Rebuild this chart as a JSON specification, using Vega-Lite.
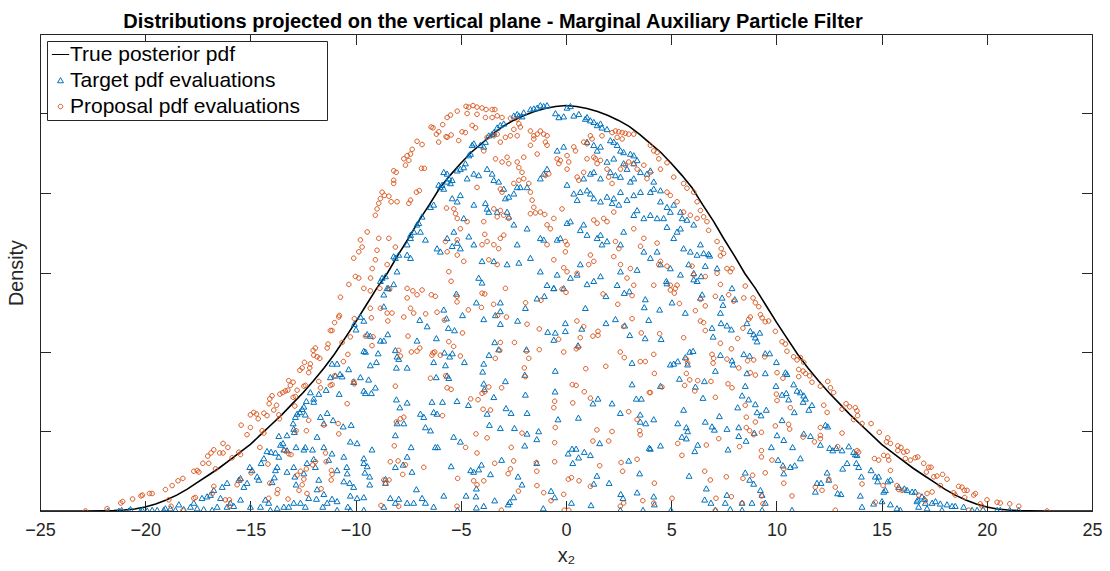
{
"$schema":"https://vega.github.io/schema/vega-lite/v6.json",
"width":1052,"height":477,
"autosize":{"type":"none"},
"padding":{"left":40,"top":34,"right":18,"bottom":60},
"background":"white",
"config":{"view":{"stroke":null},"font":"Liberation Sans"},
"title":{"text":"Distributions projected on the vertical plane - Marginal Auxiliary Particle Filter","fontSize":20,"fontWeight":"bold","color":"#000000","font":"Liberation Sans","anchor":"middle","frame":"group","dx":-73,"dy":24,"offset":10,"baseline":"alphabetic"},
"datasets":{
"curve":[{"x":-25,"y":0},{"x":-23,"y":0},{"x":-22,"y":0.00003},{"x":-21.5,"y":0.00006},{"x":-21,"y":0.00013},{"x":-20.5,"y":0.00025},{"x":-20,"y":0.0005},{"x":-19.5,"y":0.00088},{"x":-19,"y":0.00138},{"x":-18.5,"y":0.002},{"x":-18,"y":0.00275},{"x":-17.5,"y":0.00363},{"x":-17,"y":0.0045},{"x":-16.5,"y":0.00538},{"x":-16,"y":0.00638},{"x":-15.5,"y":0.00738},{"x":-15,"y":0.00838},{"x":-14.5,"y":0.00963},{"x":-14,"y":0.01088},{"x":-13.5,"y":0.01213},{"x":-13,"y":0.0135},{"x":-12.5,"y":0.01488},{"x":-12,"y":0.01638},{"x":-11.5,"y":0.018},{"x":-11,"y":0.01975},{"x":-10.5,"y":0.02175},{"x":-10,"y":0.02375},{"x":-9.5,"y":0.02588},{"x":-9,"y":0.028},{"x":-8.5,"y":0.02988},{"x":-8,"y":0.03213},{"x":-7.5,"y":0.03425},{"x":-7,"y":0.0365},{"x":-6.5,"y":0.0385},{"x":-6,"y":0.04063},{"x":-5.5,"y":0.04225},{"x":-5,"y":0.04375},{"x":-4.5,"y":0.04513},{"x":-4,"y":0.04625},{"x":-3.5,"y":0.04738},{"x":-3,"y":0.04838},{"x":-2.5,"y":0.04913},{"x":-2,"y":0.04975},{"x":-1.5,"y":0.05025},{"x":-1,"y":0.05063},{"x":-0.5,"y":0.05088},{"x":0,"y":0.051},{"x":0.5,"y":0.05088},{"x":1,"y":0.05063},{"x":1.5,"y":0.05025},{"x":2,"y":0.04975},{"x":2.5,"y":0.04913},{"x":3,"y":0.04838},{"x":3.5,"y":0.04738},{"x":4,"y":0.04625},{"x":4.5,"y":0.04513},{"x":5,"y":0.04375},{"x":5.5,"y":0.04225},{"x":6,"y":0.04063},{"x":6.5,"y":0.0385},{"x":7,"y":0.0365},{"x":7.5,"y":0.03425},{"x":8,"y":0.03213},{"x":8.5,"y":0.02988},{"x":9,"y":0.028},{"x":9.5,"y":0.02588},{"x":10,"y":0.02375},{"x":10.5,"y":0.02175},{"x":11,"y":0.01975},{"x":11.5,"y":0.018},{"x":12,"y":0.01638},{"x":12.5,"y":0.01488},{"x":13,"y":0.0135},{"x":13.5,"y":0.01213},{"x":14,"y":0.01088},{"x":14.5,"y":0.00963},{"x":15,"y":0.00838},{"x":15.5,"y":0.00738},{"x":16,"y":0.00638},{"x":16.5,"y":0.00538},{"x":17,"y":0.0045},{"x":17.5,"y":0.00363},{"x":18,"y":0.00275},{"x":18.5,"y":0.002},{"x":19,"y":0.00138},{"x":19.5,"y":0.00088},{"x":20,"y":0.0005},{"x":20.5,"y":0.00025},{"x":21,"y":0.00013},{"x":21.5,"y":0.00006},{"x":22,"y":0.00003},{"x":23,"y":0},{"x":25,"y":0}],
"pts":[
{"s":"T","x":-21.78,"y":0},{"s":"T","x":-21.25,"y":0},{"s":"T","x":-21.12,"y":0.0001},{"s":"T","x":-20.78,"y":0},{"s":"T","x":-20.7,"y":0.0002},{"s":"T","x":-20.22,"y":0},{"s":"T","x":-20.14,"y":0.0001},{"s":"T","x":-19.9,"y":0},
{"s":"T","x":-9.77,"y":0.0244},{"s":"T","x":-9.61,"y":0.0239},{"s":"T","x":-10.06,"y":0.0235},{"s":"T","x":-9.98,"y":0.0228},{"s":"T","x":-9.45,"y":0.0222},{"s":"T","x":-9.3,"y":0.022},{"s":"T","x":-9.61,"y":0.0201},{"s":"T","x":-9.53,"y":0.02},{"s":"T","x":-9.3,"y":0.0183},{"s":"T","x":-8.66,"y":0.0272},{"s":"T","x":-8.66,"y":0.0257},{"s":"T","x":-8.44,"y":0.028},{"s":"T","x":-11.12,"y":0.0185},{"s":"T","x":-10.88,"y":0.0185},{"s":"T","x":-10.78,"y":0.0147},{"s":"T","x":-10.64,"y":0.0169},{"s":"T","x":-10.33,"y":0.0178},{"s":"T","x":-10.09,"y":0.0162},{"s":"T","x":-9.77,"y":0.0168},{"s":"T","x":-9.38,"y":0.0165},{"s":"T","x":-9.61,"y":0.0151},{"s":"T","x":-9.53,"y":0.0148},{"s":"T","x":-9.25,"y":0.0148},{"s":"T","x":-9.06,"y":0.0155},{"s":"T","x":-9.01,"y":0.0187},{"s":"T","x":-8.93,"y":0.0198},{"s":"T","x":-8.82,"y":0.0214},{"s":"T","x":-8.66,"y":0.0214},{"s":"T","x":-8.47,"y":0.0222},{"s":"T","x":-8.11,"y":0.0202},{"s":"T","x":-8.03,"y":0.0194},{"s":"T","x":-8.06,"y":0.018},{"s":"T","x":-7.95,"y":0.0191},{"s":"T","x":-7.55,"y":0.018},{"s":"T","x":-7.08,"y":0.0214},{"s":"T","x":-6.95,"y":0.024},{"s":"T","x":-6.6,"y":0.0232},{"s":"T","x":-6.16,"y":0.0217},{"s":"T","x":-6.29,"y":0.0187},{"s":"T","x":-6.17,"y":0.0168},{"s":"T","x":-6.92,"y":0.0122},{"s":"T","x":-6.76,"y":0.0118},{"s":"T","x":-6.29,"y":0.0124},{"s":"T","x":-6.13,"y":0.0122},{"s":"T","x":-6.37,"y":0.0137},{"s":"T","x":-6.44,"y":0.0101},{"s":"T","x":-6.68,"y":0.0105},{"s":"T","x":-6.21,"y":0.008},{"s":"T","x":-6.1,"y":0.008},{"s":"T","x":-7.36,"y":0.008},{"s":"T","x":-7.55,"y":0.0068},{"s":"T","x":-7.74,"y":0.0058},{"s":"T","x":-8.11,"y":0.0095},{"s":"T","x":-8.03,"y":0.011},{"s":"T","x":-7.71,"y":0.011},{"s":"T","x":-7.9,"y":0.013},{"s":"T","x":-8.06,"y":0.014},{"s":"T","x":-7.55,"y":0.0136},{"s":"T","x":-9.22,"y":0.0077},{"s":"T","x":-9.61,"y":0.0066},{"s":"T","x":-9.61,"y":0.006},{"s":"T","x":-9.45,"y":0.0056},{"s":"T","x":-9.56,"y":0.0048},{"s":"T","x":-9.33,"y":0.0033},{"s":"T","x":-9.33,"y":0.0043},{"s":"T","x":-8.58,"y":0.004},{"s":"T","x":-8.58,"y":0.0035},{"s":"T","x":-8.35,"y":0.0016},{"s":"T","x":-7.95,"y":0.0015},{"s":"T","x":-7.55,"y":0.001},{"s":"T","x":-6.68,"y":0.001},{"s":"T","x":-7.11,"y":0.0027},{"s":"T","x":-7.32,"y":0.0049},{"s":"T","x":-8.11,"y":0.0055},{"s":"T","x":-9.61,"y":0.0017},{"s":"T","x":-10.25,"y":0.0019},{"s":"T","x":-10.37,"y":0.0005},{"s":"T","x":-10.88,"y":0.0012},{"s":"T","x":-11.12,"y":0.0015},{"s":"T","x":-11.56,"y":0.0005},{"s":"T","x":-11.51,"y":0.0021},{"s":"T","x":-11.75,"y":0.0039},{"s":"T","x":-11.83,"y":0.0027},{"s":"T","x":-11.86,"y":0.0015},{"s":"T","x":-12.23,"y":0.0016},{"s":"T","x":-12.39,"y":0.0005},{"s":"T","x":-12.83,"y":0.0033},{"s":"T","x":-12.94,"y":0.0055},{"s":"T","x":-12.89,"y":0.0043},{"s":"T","x":-13.26,"y":0.0049},{"s":"T","x":-13.73,"y":0.0055},{"s":"T","x":-13.81,"y":0.0051},{"s":"T","x":-13.86,"y":0.0042},{"s":"T","x":-13.97,"y":0.0036},{"s":"T","x":-14.6,"y":0.0039},{"s":"T","x":-14.68,"y":0.0043},{"s":"T","x":-15.03,"y":0.0055},{"s":"T","x":-14.92,"y":0.0051},{"s":"T","x":-14.49,"y":0.006},{"s":"T","x":-14.36,"y":0.0066},{"s":"T","x":-14.21,"y":0.0075},{"s":"T","x":-14.02,"y":0.0074},{"s":"T","x":-13.81,"y":0.0073},{"s":"T","x":-13.65,"y":0.0068},{"s":"T","x":-13.41,"y":0.0077},{"s":"T","x":-13.26,"y":0.0076},{"s":"T","x":-13.45,"y":0.0085},{"s":"T","x":-13.26,"y":0.0095},{"s":"T","x":-13.65,"y":0.0094},{"s":"T","x":-13.57,"y":0.0083},{"s":"T","x":-12.83,"y":0.008},{"s":"T","x":-12.46,"y":0.0077},{"s":"T","x":-12.39,"y":0.008},{"s":"T","x":-12.31,"y":0.006},{"s":"T","x":-11.99,"y":0.0065},{"s":"T","x":-11.91,"y":0.0055},{"s":"T","x":-12.46,"y":0.0047},{"s":"T","x":-11.28,"y":0.0064},{"s":"T","x":-11.12,"y":0.0072},{"s":"T","x":-10.56,"y":0.0068},{"s":"T","x":-10.42,"y":0.0055},{"s":"T","x":-10.4,"y":0.0047},{"s":"T","x":-10.28,"y":0.0035},{"s":"T","x":-10.09,"y":0.003},{"s":"T","x":-9.93,"y":0.0016},{"s":"T","x":-10.56,"y":0.0037},{"s":"T","x":-10.88,"y":0.0051},{"s":"T","x":-12.91,"y":0.0099},{"s":"T","x":-12.94,"y":0.0103},{"s":"T","x":-12.97,"y":0.011},{"s":"T","x":-12.86,"y":0.0118},{"s":"T","x":-12.78,"y":0.0122},{"s":"T","x":-12.65,"y":0.0124},{"s":"T","x":-12.54,"y":0.0128},{"s":"T","x":-12.46,"y":0.0131},{"s":"T","x":-12.34,"y":0.0138},{"s":"T","x":-12.39,"y":0.0121},{"s":"T","x":-11.99,"y":0.0137},{"s":"T","x":-12.15,"y":0.0149},{"s":"T","x":-11.99,"y":0.0141},{"s":"T","x":-11.75,"y":0.0147},{"s":"T","x":-11.51,"y":0.011},{"s":"T","x":-11.07,"y":0.0114},{"s":"T","x":-10.59,"y":0.0106},{"s":"T","x":-10.21,"y":0.0108},{"s":"T","x":-10.25,"y":0.0087},{"s":"T","x":-9.93,"y":0.0085},{"s":"T","x":-11.35,"y":0.0123},{"s":"T","x":-10.96,"y":0.017},{"s":"T","x":-10.74,"y":0.0172},{"s":"T","x":-11.2,"y":0.0168},{"s":"T","x":-11.4,"y":0.0152},{"s":"T","x":-11.67,"y":0.0118},{"s":"T","x":-11.83,"y":0.0093},{"s":"T","x":-12.05,"y":0.0077},{"s":"T","x":-11.51,"y":0.008},
{"s":"T","x":-15.0,"y":0.0005},{"s":"T","x":-14.13,"y":0.001},{"s":"T","x":-13.73,"y":0.0003},{"s":"T","x":-13.18,"y":0.0005},{"s":"T","x":-12.62,"y":0.001},{"s":"T","x":-15.55,"y":0.0039},{"s":"T","x":-15.47,"y":0.0041},{"s":"T","x":-15.16,"y":0.0035},{"s":"T","x":-15.31,"y":0.003},{"s":"T","x":-15.79,"y":0.0006},{"s":"T","x":-16.11,"y":0.0035},{"s":"T","x":-16.34,"y":0.003},{"s":"T","x":-16.42,"y":0.0016},{"s":"T","x":-16.74,"y":0.0026},{"s":"T","x":-16.9,"y":0.002},{"s":"T","x":-17.06,"y":0.0018},{"s":"T","x":-17.3,"y":0.0016},{"s":"T","x":-17.53,"y":0.0003},{"s":"T","x":-17.69,"y":0.001},{"s":"T","x":-17.85,"y":0.0005},{"s":"T","x":-18.17,"y":0.0002},{"s":"T","x":-18.4,"y":0.0008},{"s":"T","x":-18.56,"y":0.0001},{"s":"T","x":-18.8,"y":0.0003},{"s":"T","x":-19.04,"y":0.0003},{"s":"T","x":-19.12,"y":0.0001},{"s":"T","x":-19.43,"y":0.0001},{"s":"T","x":-19.67,"y":0.0001},{"s":"T","x":-15.47,"y":0.0014},{"s":"T","x":-15.95,"y":0.001},{"s":"T","x":-16.11,"y":0.0005},{"s":"T","x":-16.58,"y":0.0005},{"s":"T","x":-16.82,"y":0.0001},{"s":"T","x":-17.22,"y":0.0002},{"s":"T","x":-14.52,"y":0.0005},{"s":"T","x":-14.29,"y":0.0014},{"s":"T","x":-14.05,"y":0.0001},{"s":"T","x":-13.41,"y":0.0005},{"s":"T","x":-12.94,"y":0.001},{"s":"T","x":-11.35,"y":0.001},{"s":"T","x":-10.88,"y":0.0001},{"s":"T","x":-10.25,"y":0.0001},{"s":"T","x":-9.61,"y":0.0001},{"s":"T","x":-8.66,"y":0.0005},{"s":"T","x":-8.11,"y":0.001},{"s":"T","x":-6.29,"y":0.0005},{"s":"T","x":-7.24,"y":0.001},{"s":"T","x":-6.84,"y":0.0016},
{"s":"T","x":-8.82,"y":0.0289},{"s":"T","x":-8.74,"y":0.0293},{"s":"T","x":-8.58,"y":0.0295},{"s":"T","x":-8.19,"y":0.032},{"s":"T","x":-8.11,"y":0.0318},{"s":"T","x":-7.95,"y":0.0322},{"s":"T","x":-7.55,"y":0.0335},{"s":"T","x":-7.39,"y":0.0343},{"s":"T","x":-7.23,"y":0.0351},{"s":"T","x":-7.08,"y":0.036},{"s":"T","x":-7.0,"y":0.0362},{"s":"T","x":-6.84,"y":0.037},{"s":"T","x":-6.44,"y":0.0382},{"s":"T","x":-6.29,"y":0.0385},{"s":"T","x":-6.05,"y":0.041},{"s":"T","x":-5.97,"y":0.0407},{"s":"T","x":-5.89,"y":0.041},{"s":"T","x":-5.81,"y":0.0405},{"s":"T","x":-5.65,"y":0.0414},{"s":"T","x":-5.57,"y":0.0418},{"s":"T","x":-5.49,"y":0.0412},{"s":"T","x":-5.17,"y":0.0428},{"s":"T","x":-5.02,"y":0.043},{"s":"T","x":-4.86,"y":0.0432},{"s":"T","x":-4.78,"y":0.0437},{"s":"T","x":-4.62,"y":0.0447},{"s":"T","x":-4.54,"y":0.0449},{"s":"T","x":-4.46,"y":0.046},{"s":"T","x":-4.38,"y":0.0462},{"s":"T","x":-4.07,"y":0.046},{"s":"T","x":-3.91,"y":0.0458},{"s":"T","x":-3.83,"y":0.0464},{"s":"T","x":-3.67,"y":0.0472},{"s":"T","x":-3.51,"y":0.0474},{"s":"T","x":-3.43,"y":0.0476},{"s":"T","x":-3.27,"y":0.0482},{"s":"T","x":-3.12,"y":0.0485},{"s":"T","x":-2.96,"y":0.0487},{"s":"T","x":-2.48,"y":0.0497},{"s":"T","x":-2.32,"y":0.0499},{"s":"T","x":-2.24,"y":0.0497},{"s":"T","x":-2.09,"y":0.0496},{"s":"T","x":-2.01,"y":0.0501},{"s":"T","x":-1.69,"y":0.0505},{"s":"T","x":-1.53,"y":0.0506},{"s":"T","x":-1.37,"y":0.0507},{"s":"T","x":-1.22,"y":0.051},{"s":"T","x":-1.06,"y":0.0509},{"s":"T","x":-0.9,"y":0.051},{"s":"T","x":-0.5,"y":0.05},{"s":"T","x":-0.34,"y":0.0495},{"s":"T","x":-0.11,"y":0.0496},{"s":"T","x":0.05,"y":0.0507},{"s":"T","x":0.21,"y":0.0509},{"s":"T","x":0.37,"y":0.0497},{"s":"T","x":0.61,"y":0.0499},{"s":"T","x":1.0,"y":0.0495},{"s":"T","x":1.16,"y":0.0491},{"s":"T","x":1.32,"y":0.0489},{"s":"T","x":1.48,"y":0.0485},{"s":"T","x":1.64,"y":0.0487},{"s":"T","x":1.71,"y":0.0482},{"s":"T","x":0.92,"y":0.0493},
{"s":"T","x":-5.81,"y":0.0426},{"s":"T","x":-5.65,"y":0.0424},{"s":"T","x":-5.41,"y":0.0416},{"s":"T","x":-5.17,"y":0.0389},{"s":"T","x":-5.02,"y":0.0397},{"s":"T","x":-5.41,"y":0.0393},{"s":"T","x":-4.7,"y":0.0418},{"s":"T","x":-4.38,"y":0.0424},{"s":"T","x":-4.15,"y":0.0422},{"s":"T","x":-3.75,"y":0.043},{"s":"T","x":-3.51,"y":0.0424},{"s":"T","x":-3.43,"y":0.0416},{"s":"T","x":-3.2,"y":0.0414},{"s":"T","x":-2.96,"y":0.0405},{"s":"T","x":-2.88,"y":0.0393},{"s":"T","x":-2.72,"y":0.0395},{"s":"T","x":-2.48,"y":0.0399},{"s":"T","x":-2.32,"y":0.0407},{"s":"T","x":-2.17,"y":0.0407},{"s":"T","x":-1.85,"y":0.0407},{"s":"T","x":-1.22,"y":0.0418},{"s":"T","x":-1.06,"y":0.0424},{"s":"T","x":-0.9,"y":0.043},{"s":"T","x":-0.42,"y":0.0453},{"s":"T","x":-0.11,"y":0.0458},{"s":"T","x":0.05,"y":0.041},{"s":"T","x":0.37,"y":0.0399},{"s":"T","x":0.53,"y":0.0391},{"s":"T","x":0.68,"y":0.0401},{"s":"T","x":1.0,"y":0.0403},{"s":"T","x":1.16,"y":0.0399},{"s":"T","x":1.32,"y":0.0393},{"s":"T","x":1.64,"y":0.0389},{"s":"T","x":1.95,"y":0.0395},{"s":"T","x":2.19,"y":0.0387},{"s":"T","x":2.27,"y":0.0393},{"s":"T","x":2.51,"y":0.0385},{"s":"T","x":2.9,"y":0.0391},{"s":"T","x":2.59,"y":0.0401},{"s":"T","x":3.22,"y":0.0397},{"s":"T","x":3.54,"y":0.0401},{"s":"T","x":4.01,"y":0.0401},{"s":"T","x":4.17,"y":0.0405},{"s":"T","x":4.49,"y":0.0389},{"s":"T","x":4.8,"y":0.0382},{"s":"T","x":5.12,"y":0.0385},{"s":"T","x":5.44,"y":0.0376},{"s":"T","x":5.52,"y":0.0368},{"s":"T","x":5.75,"y":0.0366},{"s":"T","x":6.07,"y":0.036},{"s":"T","x":5.44,"y":0.0355},{"s":"T","x":5.28,"y":0.0351},{"s":"T","x":5.12,"y":0.0343},{"s":"T","x":5.59,"y":0.033},{"s":"T","x":5.91,"y":0.0326},{"s":"T","x":6.23,"y":0.0322},{"s":"T","x":5.83,"y":0.031},{"s":"T","x":6.07,"y":0.0299},{"s":"T","x":5.44,"y":0.0297},{"s":"T","x":4.96,"y":0.0305},{"s":"T","x":4.01,"y":0.0318},{"s":"T","x":3.7,"y":0.0326},{"s":"T","x":4.33,"y":0.0326},{"s":"T","x":4.49,"y":0.031},{"s":"T","x":4.8,"y":0.0286},{"s":"T","x":3.38,"y":0.0303},{"s":"T","x":2.59,"y":0.0301},{"s":"T","x":2.43,"y":0.0284},{"s":"T","x":1.64,"y":0.0295},{"s":"T","x":1.32,"y":0.0289},{"s":"T","x":1.0,"y":0.0285},{"s":"T","x":0.68,"y":0.031},{"s":"T","x":0.53,"y":0.0297},{"s":"T","x":0.21,"y":0.0293},{"s":"T","x":-0.11,"y":0.028},{"s":"T","x":-0.42,"y":0.0297},{"s":"T","x":-0.58,"y":0.028},{"s":"T","x":-0.9,"y":0.0284},{"s":"T","x":-1.22,"y":0.0301},{"s":"T","x":-1.69,"y":0.0318},{"s":"T","x":-2.32,"y":0.0335},{"s":"T","x":-2.24,"y":0.0312},{"s":"T","x":-2.8,"y":0.031},{"s":"T","x":-3.43,"y":0.0314},{"s":"T","x":-3.99,"y":0.0314},{"s":"T","x":-4.38,"y":0.0335},{"s":"T","x":-4.15,"y":0.0293},{"s":"T","x":-3.99,"y":0.0287},{"s":"T","x":-4.62,"y":0.0345},{"s":"T","x":-5.02,"y":0.033},{"s":"T","x":-5.17,"y":0.0337},{"s":"T","x":-5.97,"y":0.0326},{"s":"T","x":-6.13,"y":0.033},{"s":"T","x":-6.68,"y":0.0341},{"s":"T","x":-6.92,"y":0.0351},{"s":"T","x":-7.39,"y":0.0347},{"s":"T","x":-7.55,"y":0.0322},{"s":"T","x":-7.39,"y":0.0318},{"s":"T","x":-8.03,"y":0.0301},{"s":"T","x":-8.19,"y":0.0285},{"s":"T","x":-8.5,"y":0.028},{"s":"T","x":-5.65,"y":0.0343},{"s":"T","x":-5.41,"y":0.0333},{"s":"T","x":-5.33,"y":0.0351},{"s":"T","x":-4.86,"y":0.0368},{"s":"T","x":-4.38,"y":0.0385},{"s":"T","x":-3.83,"y":0.0387},{"s":"T","x":-3.75,"y":0.038},{"s":"T","x":-3.67,"y":0.0376},{"s":"T","x":-3.27,"y":0.0376},{"s":"T","x":-2.8,"y":0.0376},{"s":"T","x":-2.72,"y":0.037},{"s":"T","x":-2.48,"y":0.036},{"s":"T","x":-1.85,"y":0.0355},{"s":"T","x":-1.22,"y":0.0343},{"s":"T","x":-1.06,"y":0.0341},{"s":"T","x":-0.42,"y":0.0341},{"s":"T","x":-0.27,"y":0.0343},{"s":"T","x":0.05,"y":0.0362},{"s":"T","x":0.21,"y":0.0364},{"s":"T","x":0.68,"y":0.0353},{"s":"T","x":0.84,"y":0.036},{"s":"T","x":1.0,"y":0.0347},{"s":"T","x":1.48,"y":0.0343},{"s":"T","x":1.64,"y":0.0347},{"s":"T","x":1.71,"y":0.0335},{"s":"T","x":1.95,"y":0.0339},{"s":"T","x":2.59,"y":0.0335},{"s":"T","x":2.74,"y":0.0351},{"s":"T","x":3.22,"y":0.0372},{"s":"T","x":3.38,"y":0.0378},{"s":"T","x":3.7,"y":0.0368},{"s":"T","x":4.01,"y":0.0372},{"s":"T","x":4.33,"y":0.0368},{"s":"T","x":4.64,"y":0.0368},{"s":"T","x":4.8,"y":0.0357},{"s":"T","x":4.96,"y":0.0376},{"s":"T","x":1.95,"y":0.048},{"s":"T","x":2.11,"y":0.0466},{"s":"T","x":2.27,"y":0.0464},{"s":"T","x":2.43,"y":0.046},{"s":"T","x":2.59,"y":0.0453},{"s":"T","x":2.74,"y":0.0451},{"s":"T","x":3.06,"y":0.0449},{"s":"T","x":3.22,"y":0.0447},{"s":"T","x":3.38,"y":0.0441},{"s":"T","x":3.22,"y":0.0437},{"s":"T","x":2.9,"y":0.043},{"s":"T","x":2.74,"y":0.0437},{"s":"T","x":2.27,"y":0.0443},{"s":"T","x":1.95,"y":0.0439},{"s":"T","x":1.64,"y":0.0418},{"s":"T","x":1.32,"y":0.0426},{"s":"T","x":1.16,"y":0.0424},{"s":"T","x":0.84,"y":0.0418},{"s":"T","x":1.64,"y":0.0458},{"s":"T","x":1.48,"y":0.0453},{"s":"T","x":1.32,"y":0.046},{"s":"T","x":1.0,"y":0.0464},{"s":"T","x":3.54,"y":0.0426},{"s":"T","x":3.85,"y":0.0424},{"s":"T","x":4.01,"y":0.0428},{"s":"T","x":4.17,"y":0.0414},{"s":"T","x":4.49,"y":0.0403},{"s":"T","x":3.22,"y":0.0418},{"s":"T","x":3.06,"y":0.0414},{"s":"T","x":2.59,"y":0.042},{"s":"T","x":2.35,"y":0.0422},{"s":"T","x":2.11,"y":0.0426},
{"s":"T","x":-5.81,"y":0.0253},{"s":"T","x":-5.21,"y":0.0273},{"s":"T","x":-4.26,"y":0.0262},{"s":"T","x":-3.12,"y":0.0262},{"s":"T","x":-3.36,"y":0.0246},{"s":"T","x":-3.12,"y":0.0251},{"s":"T","x":-3.91,"y":0.0241},{"s":"T","x":-4.92,"y":0.0246},{"s":"T","x":-5.68,"y":0.0242},{"s":"T","x":-5.59,"y":0.023},{"s":"T","x":-5.3,"y":0.0227},{"s":"T","x":-3.12,"y":0.0235},{"s":"T","x":-2.3,"y":0.0239},{"s":"T","x":-1.93,"y":0.0255},{"s":"T","x":-1.38,"y":0.0267},{"s":"T","x":-1.03,"y":0.027},{"s":"T","x":-0.58,"y":0.028},{"s":"T","x":0.92,"y":0.0255},{"s":"T","x":-0.03,"y":0.0236},{"s":"T","x":-0.03,"y":0.0226},{"s":"T","x":-0.87,"y":0.0225},{"s":"T","x":-0.51,"y":0.0224},{"s":"T","x":-0.58,"y":0.0215},{"s":"T","x":0.57,"y":0.0208},{"s":"T","x":0.75,"y":0.0229},{"s":"T","x":1.9,"y":0.0236},{"s":"T","x":2.35,"y":0.0241},{"s":"T","x":2.79,"y":0.0233},{"s":"T","x":2.77,"y":0.0274},{"s":"T","x":3.01,"y":0.0276},{"s":"T","x":1.9,"y":0.027},{"s":"T","x":3.77,"y":0.0266},{"s":"T","x":3.72,"y":0.0256},{"s":"T","x":3.93,"y":0.024},{"s":"T","x":3.03,"y":0.0221},{"s":"T","x":3.76,"y":0.0217},{"s":"T","x":3.14,"y":0.0186},{"s":"T","x":-3.39,"y":0.0212},{"s":"T","x":-3.66,"y":0.0196},{"s":"T","x":-3.2,"y":0.0203},{"s":"T","x":-1.88,"y":0.0203},{"s":"T","x":-4.83,"y":0.0187},{"s":"T","x":-3.91,"y":0.0185},{"s":"T","x":-3.96,"y":0.0175},{"s":"T","x":-5.73,"y":0.0183},{"s":"T","x":-5.78,"y":0.0199},{"s":"T","x":-5.4,"y":0.0198},{"s":"T","x":-5.53,"y":0.0194},{"s":"T","x":-5.65,"y":0.017},{"s":"T","x":-5.57,"y":0.0167},{"s":"T","x":-0.51,"y":0.0176},{"s":"T","x":-1.96,"y":0.0171},{"s":"T","x":-2.88,"y":0.0163},{"s":"T","x":-3.91,"y":0.016},{"s":"T","x":-3.88,"y":0.0153},{"s":"T","x":-3.43,"y":0.0143},{"s":"T","x":-5.18,"y":0.0138},{"s":"T","x":-4.64,"y":0.0133},{"s":"T","x":-5.87,"y":0.0137},{"s":"T","x":-1.93,"y":0.0146},{"s":"T","x":-0.52,"y":0.015},{"s":"T","x":-2.85,"y":0.0129},{"s":"T","x":-2.61,"y":0.0123},{"s":"T","x":-3.75,"y":0.0122},{"s":"T","x":-1.85,"y":0.0123},{"s":"T","x":-3.64,"y":0.0108},{"s":"T","x":-3.12,"y":0.0104},{"s":"T","x":-2.45,"y":0.0104},{"s":"T","x":-1.3,"y":0.01},{"s":"T","x":-1.85,"y":0.0097},{"s":"T","x":-1.39,"y":0.009},{"s":"T","x":-0.38,"y":0.0115},{"s":"T","x":0.59,"y":0.0117},{"s":"T","x":3.53,"y":0.0121},{"s":"T","x":3.53,"y":0.0112},{"s":"T","x":3.79,"y":0.011},{"s":"T","x":2.58,"y":0.0123},{"s":"T","x":3.14,"y":0.0159},{"s":"T","x":3.34,"y":0.0141},{"s":"T","x":3.58,"y":0.0141},{"s":"T","x":2.19,"y":0.0135},{"s":"T","x":1.28,"y":0.0135},{"s":"T","x":1.52,"y":0.0141},{"s":"T","x":-5.34,"y":0.0093},{"s":"T","x":-5.02,"y":0.0087},{"s":"T","x":-1.96,"y":0.0082},{"s":"T","x":0.29,"y":0.0078},{"s":"T","x":0.48,"y":0.0078},{"s":"T","x":0.87,"y":0.0074},{"s":"T","x":1.16,"y":0.007},{"s":"T","x":0.1,"y":0.0072},{"s":"T","x":0.6,"y":0.0067},{"s":"T","x":0.32,"y":0.006},{"s":"T","x":1.6,"y":0.0085},{"s":"T","x":3.96,"y":0.0079},{"s":"T","x":2.98,"y":0.0063},{"s":"T","x":-1.39,"y":0.006},{"s":"T","x":-3.06,"y":0.0064},{"s":"T","x":-4.02,"y":0.0058},{"s":"T","x":-4.53,"y":0.0051},{"s":"T","x":-4.39,"y":0.0049},{"s":"T","x":-4.15,"y":0.0052},{"s":"T","x":-3.59,"y":0.0046},{"s":"T","x":-5.46,"y":0.0056},{"s":"T","x":-2.28,"y":0.0043},{"s":"T","x":-2.09,"y":0.0033},{"s":"T","x":-4.26,"y":0.0028},{"s":"T","x":-4.28,"y":0.0018},{"s":"T","x":-4.75,"y":0.0019},{"s":"T","x":-5.81,"y":0.0019},{"s":"T","x":-3.39,"y":0.0013},{"s":"T","x":-2.68,"y":0.0011},{"s":"T","x":-2.49,"y":0.0017},{"s":"T","x":-2.75,"y":0.0008},{"s":"T","x":-3.91,"y":0.0006},{"s":"T","x":-4.26,"y":0.0004},{"s":"T","x":-5.16,"y":0.0001},{"s":"T","x":-1.08,"y":0.0003},{"s":"T","x":-0.54,"y":0.0017},{"s":"T","x":-0.71,"y":0.0025},{"s":"T","x":0.26,"y":0.001},{"s":"T","x":1.19,"y":0.0007},{"s":"T","x":1.47,"y":0.0044},{"s":"T","x":2.05,"y":0.0035},{"s":"T","x":1.32,"y":0.0034},{"s":"T","x":3.5,"y":0.0047},{"s":"T","x":3.38,"y":0.0023},{"s":"T","x":2.6,"y":0.0021},{"s":"T","x":2.71,"y":0.0016},{"s":"T","x":2.58,"y":0.0001},{"s":"T","x":3.66,"y":0.0001},
{"s":"T","x":6.39,"y":0.0335},{"s":"T","x":6.54,"y":0.0324},{"s":"T","x":6.78,"y":0.0323},{"s":"T","x":6.83,"y":0.0321},{"s":"T","x":6.62,"y":0.0308},{"s":"T","x":7.18,"y":0.0305},{"s":"T","x":6.42,"y":0.0295},{"s":"T","x":6.23,"y":0.0289},{"s":"T","x":6.07,"y":0.0291},{"s":"T","x":7.89,"y":0.028},{"s":"T","x":7.42,"y":0.0268},{"s":"T","x":7.46,"y":0.0259},{"s":"T","x":7.34,"y":0.0249},{"s":"T","x":7.37,"y":0.0236},{"s":"T","x":6.94,"y":0.023},{"s":"T","x":7.65,"y":0.0233},{"s":"T","x":7.86,"y":0.0228},{"s":"T","x":6.99,"y":0.0219},{"s":"T","x":6.39,"y":0.0268},{"s":"T","x":5.67,"y":0.0249},{"s":"T","x":4.45,"y":0.0253},{"s":"T","x":4.52,"y":0.0216},{"s":"T","x":5.04,"y":0.0262},{"s":"T","x":4.77,"y":0.0289},{"s":"T","x":6.47,"y":0.0272},{"s":"T","x":8.02,"y":0.0266},{"s":"T","x":8.6,"y":0.0236},{"s":"T","x":8.76,"y":0.0226},{"s":"T","x":8.92,"y":0.0222},{"s":"T","x":9.0,"y":0.0218},{"s":"T","x":9.21,"y":0.0224},{"s":"T","x":9.08,"y":0.0213},
{"s":"T","x":5.88,"y":0.02},{"s":"T","x":6.04,"y":0.0201},{"s":"T","x":5.67,"y":0.0193},{"s":"T","x":4.96,"y":0.0184},{"s":"T","x":5.12,"y":0.0185},{"s":"T","x":5.31,"y":0.0188},{"s":"T","x":5.78,"y":0.0184},{"s":"T","x":7.1,"y":0.0176},{"s":"T","x":7.34,"y":0.0196},{"s":"T","x":7.89,"y":0.0189},{"s":"T","x":7.94,"y":0.0184},{"s":"T","x":8.45,"y":0.0197},{"s":"T","x":8.73,"y":0.0195},{"s":"T","x":9.47,"y":0.0198},{"s":"T","x":9.68,"y":0.0198},{"s":"T","x":10.0,"y":0.0187},{"s":"T","x":10.43,"y":0.0174},{"s":"T","x":10.5,"y":0.0172},{"s":"T","x":9.47,"y":0.0173},{"s":"T","x":8.6,"y":0.0173},{"s":"T","x":5.39,"y":0.0166},{"s":"T","x":6.15,"y":0.0156},{"s":"T","x":6.58,"y":0.0163},{"s":"T","x":6.51,"y":0.0142},{"s":"T","x":4.49,"y":0.0157},{"s":"T","x":5.59,"y":0.0127},{"s":"T","x":4.17,"y":0.0115},{"s":"T","x":5.31,"y":0.011},{"s":"T","x":5.72,"y":0.0105},{"s":"T","x":5.78,"y":0.01},{"s":"T","x":5.51,"y":0.0093},{"s":"T","x":5.72,"y":0.0091},{"s":"T","x":6.62,"y":0.0112},{"s":"T","x":6.94,"y":0.0106},{"s":"T","x":7.05,"y":0.0102},{"s":"T","x":7.29,"y":0.0119},{"s":"T","x":7.65,"y":0.0103},{"s":"T","x":8.21,"y":0.0105},{"s":"T","x":8.16,"y":0.013},{"s":"T","x":8.37,"y":0.0145},{"s":"T","x":8.52,"y":0.0157},{"s":"T","x":8.68,"y":0.014},{"s":"T","x":9.0,"y":0.0134},{"s":"T","x":9.08,"y":0.0124},{"s":"T","x":9.27,"y":0.012},{"s":"T","x":9.52,"y":0.0127},{"s":"T","x":9.98,"y":0.0157},{"s":"T","x":10.27,"y":0.0146},{"s":"T","x":10.47,"y":0.0148},{"s":"T","x":10.58,"y":0.014},{"s":"T","x":10.82,"y":0.0159},{"s":"T","x":10.98,"y":0.0151},{"s":"T","x":10.85,"y":0.0124},{"s":"T","x":10.27,"y":0.0114},{"s":"T","x":10.03,"y":0.0095},{"s":"T","x":10.35,"y":0.0089},{"s":"T","x":9.76,"y":0.008},{"s":"T","x":10.08,"y":0.0064},{"s":"T","x":10.31,"y":0.0057},{"s":"T","x":10.66,"y":0.0055},{"s":"T","x":10.87,"y":0.0057},{"s":"T","x":10.77,"y":0.008},{"s":"T","x":8.21,"y":0.0094},{"s":"T","x":8.56,"y":0.0088},{"s":"T","x":8.95,"y":0.0098},{"s":"T","x":7.7,"y":0.0077},{"s":"T","x":6.26,"y":0.0083},{"s":"T","x":6.12,"y":0.0075},{"s":"T","x":4.49,"y":0.0082},{"s":"T","x":4.01,"y":0.0078},{"s":"T","x":5.85,"y":0.0044},{"s":"T","x":8.52,"y":0.0048},{"s":"T","x":8.73,"y":0.0039},{"s":"T","x":8.92,"y":0.0034},{"s":"T","x":9.24,"y":0.0026},{"s":"T","x":9.32,"y":0.002},{"s":"T","x":9.47,"y":0.001},{"s":"T","x":8.84,"y":0.001},{"s":"T","x":8.37,"y":0.001},{"s":"T","x":7.65,"y":0.002},{"s":"T","x":7.57,"y":0.001},{"s":"T","x":6.89,"y":0.001},{"s":"T","x":6.67,"y":0.0028},{"s":"T","x":6.59,"y":0.0014},{"s":"T","x":7.1,"y":0.0001},{"s":"T","x":7.81,"y":0.0002},{"s":"T","x":8.37,"y":0.0001},{"s":"T","x":9.32,"y":0.0001},{"s":"T","x":10.74,"y":0.0001},{"s":"T","x":10.35,"y":0.0047},{"s":"T","x":4.17,"y":0.0018},{"s":"T","x":4.2,"y":0.0008},{"s":"T","x":4.99,"y":0.0001},
{"s":"T","x":11.14,"y":0.0149},{"s":"T","x":11.3,"y":0.0145},{"s":"T","x":11.38,"y":0.0141},{"s":"T","x":11.54,"y":0.0127},{"s":"T","x":11.69,"y":0.0133},{"s":"T","x":11.27,"y":0.0137},{"s":"T","x":11.3,"y":0.0097},{"s":"T","x":11.14,"y":0.0066},{"s":"T","x":11.62,"y":0.0094},{"s":"T","x":12.09,"y":0.0083},{"s":"T","x":12.33,"y":0.0108},{"s":"T","x":12.44,"y":0.0106},{"s":"T","x":12.53,"y":0.0079},{"s":"T","x":12.68,"y":0.0076},{"s":"T","x":12.85,"y":0.0079},{"s":"T","x":13.12,"y":0.0076},{"s":"T","x":13.44,"y":0.0081},{"s":"T","x":13.67,"y":0.0074},{"s":"T","x":13.75,"y":0.0071},{"s":"T","x":13.83,"y":0.007},{"s":"T","x":13.36,"y":0.006},{"s":"T","x":13.15,"y":0.0053},{"s":"T","x":13.8,"y":0.006},{"s":"T","x":13.91,"y":0.0055},{"s":"T","x":12.41,"y":0.0048},{"s":"T","x":12.49,"y":0.0039},{"s":"T","x":11.93,"y":0.0035},{"s":"T","x":12.12,"y":0.0035},{"s":"T","x":11.85,"y":0.0024},{"s":"T","x":12.91,"y":0.0022},{"s":"T","x":13.07,"y":0.0021},{"s":"T","x":14.04,"y":0.0043},{"s":"T","x":14.5,"y":0.0051},{"s":"T","x":14.7,"y":0.0043},{"s":"T","x":14.86,"y":0.0043},{"s":"T","x":14.81,"y":0.0037},{"s":"T","x":15.29,"y":0.0037},{"s":"T","x":15.42,"y":0.0039},{"s":"T","x":15.18,"y":0.0026},{"s":"T","x":15.1,"y":0.0024},{"s":"T","x":15.81,"y":0.003},{"s":"T","x":16.08,"y":0.0028},{"s":"T","x":16.21,"y":0.0026},{"s":"T","x":16.45,"y":0.0024},{"s":"T","x":16.6,"y":0.0024},{"s":"T","x":16.72,"y":0.0014},{"s":"T","x":16.92,"y":0.0018},{"s":"T","x":17.03,"y":0.0015},{"s":"T","x":17.08,"y":0.001},{"s":"T","x":16.76,"y":0.0005},{"s":"T","x":17.16,"y":0.0003},{"s":"T","x":17.4,"y":0.001},{"s":"T","x":17.56,"y":0.0012},{"s":"T","x":17.79,"y":0.0009},{"s":"T","x":17.87,"y":0.0001},{"s":"T","x":18.11,"y":0.0008},{"s":"T","x":18.35,"y":0.0006},{"s":"T","x":18.5,"y":0.0006},{"s":"T","x":18.9,"y":0.0005},{"s":"T","x":19.3,"y":0.0001},{"s":"T","x":19.54,"y":0.0001},{"s":"T","x":19.82,"y":0.0002},{"s":"T","x":20.49,"y":0.0001},{"s":"T","x":20.64,"y":0.0001},{"s":"T","x":21.09,"y":0.0001},{"s":"T","x":21.52,"y":0.0001},{"s":"T","x":16.68,"y":0.0012},{"s":"T","x":15.89,"y":0.0001},{"s":"T","x":15.73,"y":0.0003},{"s":"T","x":15.42,"y":0.0008},{"s":"T","x":15.02,"y":0.0012},{"s":"T","x":14.07,"y":0.0005},{"s":"T","x":13.99,"y":0.0019},{"s":"T","x":14.62,"y":0.0009},
{"s":"P","x":-22.84,"y":0},{"s":"P","x":-21.81,"y":0.0003},{"s":"P","x":-21.16,"y":0.001},{"s":"P","x":-21.07,"y":0.0012},{"s":"P","x":-20.6,"y":0.0015},{"s":"P","x":-20.2,"y":0.0019},{"s":"P","x":-20.13,"y":0.002},{"s":"P","x":-19.8,"y":0.0022},
{"s":"P","x":-19.67,"y":0.0022},{"s":"P","x":-19.04,"y":0.0027},{"s":"P","x":-18.88,"y":0.0014},{"s":"P","x":-18.77,"y":0.0006},{"s":"P","x":-18.72,"y":0.0032},{"s":"P","x":-18.44,"y":0.0038},{"s":"P","x":-18.21,"y":0.0041},{"s":"P","x":-17.69,"y":0.005},{"s":"P","x":-17.53,"y":0.0051},{"s":"P","x":-17.45,"y":0.0049},{"s":"P","x":-17.26,"y":0.006},{"s":"P","x":-16.98,"y":0.006},{"s":"P","x":-17.03,"y":0.0069},{"s":"P","x":-16.87,"y":0.0073},{"s":"P","x":-16.74,"y":0.0077},{"s":"P","x":-16.66,"y":0.0053},{"s":"P","x":-16.46,"y":0.0073},{"s":"P","x":-16.3,"y":0.0073},{"s":"P","x":-16.3,"y":0.0085},{"s":"P","x":-16.07,"y":0.008},{"s":"P","x":-15.87,"y":0.0067},{"s":"P","x":-15.55,"y":0.0074},{"s":"P","x":-15.47,"y":0.0071},{"s":"P","x":-15.44,"y":0.0108},{"s":"P","x":-15.16,"y":0.0096},{"s":"P","x":-15.0,"y":0.0105},{"s":"P","x":-15.0,"y":0.0121},{"s":"P","x":-14.84,"y":0.0124},{"s":"P","x":-14.71,"y":0.0122},{"s":"P","x":-14.63,"y":0.0116},{"s":"P","x":-14.55,"y":0.008},{"s":"P","x":-14.44,"y":0.0101},{"s":"P","x":-14.36,"y":0.0098},{"s":"P","x":-14.36,"y":0.0123},{"s":"P","x":-14.21,"y":0.012},{"s":"P","x":-14.11,"y":0.0135},{"s":"P","x":-14.08,"y":0.0141},{"s":"P","x":-13.97,"y":0.0145},{"s":"P","x":-13.89,"y":0.0127},{"s":"P","x":-13.76,"y":0.0133},{"s":"P","x":-13.65,"y":0.0121},{"s":"P","x":-13.62,"y":0.0116},{"s":"P","x":-13.6,"y":0.0147},{"s":"P","x":-13.46,"y":0.0149},{"s":"P","x":-13.34,"y":0.0151},{"s":"P","x":-13.22,"y":0.0152},{"s":"P","x":-13.18,"y":0.0164},{"s":"P","x":-13.1,"y":0.0158},{"s":"P","x":-12.97,"y":0.0162},{"s":"P","x":-12.97,"y":0.0143},{"s":"P","x":-12.86,"y":0.0144},{"s":"P","x":-12.89,"y":0.0132},{"s":"P","x":-12.78,"y":0.0152},{"s":"P","x":-12.65,"y":0.0177},{"s":"P","x":-12.54,"y":0.018},{"s":"P","x":-12.46,"y":0.0157},{"s":"P","x":-12.43,"y":0.0187},{"s":"P","x":-12.38,"y":0.0158},{"s":"P","x":-12.23,"y":0.0174},{"s":"P","x":-12.18,"y":0.018},{"s":"P","x":-12.15,"y":0.0185},{"s":"P","x":-12.02,"y":0.0202},{"s":"P","x":-11.99,"y":0.0196},{"s":"P","x":-11.91,"y":0.0205},{"s":"P","x":-11.83,"y":0.0194},{"s":"P","x":-11.75,"y":0.0163},{"s":"P","x":-11.7,"y":0.0192},{"s":"P","x":-11.67,"y":0.0155},{"s":"P","x":-11.35,"y":0.0205},{"s":"P","x":-11.31,"y":0.021},{"s":"P","x":-11.12,"y":0.0227},{"s":"P","x":-11.2,"y":0.0227},{"s":"P","x":-11.0,"y":0.0237},{"s":"P","x":-10.77,"y":0.0246},{"s":"P","x":-10.8,"y":0.0244},{"s":"P","x":-10.72,"y":0.0269},{"s":"P","x":-9.61,"y":0.028},{"s":"P","x":-8.85,"y":0.028},{"s":"P","x":-8.38,"y":0.0279},{"s":"P","x":-7.55,"y":0.028},{"s":"P","x":-7.28,"y":0.0277},{"s":"P","x":-7.55,"y":0.0268},{"s":"P","x":-9.3,"y":0.0277},{"s":"P","x":-8.5,"y":0.0249},{"s":"P","x":-8.47,"y":0.0239},{"s":"P","x":-8.27,"y":0.0249},{"s":"P","x":-7.71,"y":0.0244},{"s":"P","x":-7.39,"y":0.0255},{"s":"P","x":-7.24,"y":0.0249},{"s":"P","x":-7.08,"y":0.0272},{"s":"P","x":-6.84,"y":0.0278},{"s":"P","x":-6.4,"y":0.0272},{"s":"P","x":-6.21,"y":0.027},{"s":"P","x":-6.67,"y":0.0248},{"s":"P","x":-6.13,"y":0.025},{"s":"P","x":-6.24,"y":0.02},{"s":"P","x":-6.37,"y":0.0196},{"s":"P","x":-6.32,"y":0.0199},{"s":"P","x":-7.08,"y":0.0201},{"s":"P","x":-6.44,"y":0.0167},{"s":"P","x":-6.76,"y":0.0055},{"s":"P","x":-6.95,"y":0.0205},{"s":"P","x":-7.35,"y":0.02},{"s":"P","x":-7.51,"y":0.022},{"s":"P","x":-7.87,"y":0.0195},{"s":"P","x":-7.95,"y":0.0202},{"s":"P","x":-8.11,"y":0.0157},{"s":"P","x":-7.71,"y":0.0118},{"s":"P","x":-7.87,"y":0.0116},{"s":"P","x":-8.06,"y":0.0112},{"s":"P","x":-8.16,"y":0.0082},{"s":"P","x":-8.35,"y":0.0062},{"s":"P","x":-7.98,"y":0.0063},{"s":"P","x":-7.63,"y":0.0058},{"s":"P","x":-7.76,"y":0.0046},{"s":"P","x":-7.95,"y":0.0006},{"s":"P","x":-8.58,"y":0.0035},{"s":"P","x":-8.66,"y":0.0039},{"s":"P","x":-8.41,"y":0.0039},{"s":"P","x":-8.79,"y":0.0007},{"s":"P","x":-8.82,"y":0.0255},{"s":"P","x":-9.3,"y":0.0255},{"s":"P","x":-9.25,"y":0.0243},{"s":"P","x":-9.17,"y":0.0219},{"s":"P","x":-9.22,"y":0.0208},{"s":"P","x":-9.53,"y":0.022},{"s":"P","x":-10.06,"y":0.0242},{"s":"P","x":-10.09,"y":0.0163},{"s":"P","x":-10.06,"y":0.016},{"s":"P","x":-10.25,"y":0.0219},{"s":"P","x":-10.58,"y":0.0188},{"s":"P","x":-10.37,"y":0.0197},{"s":"P","x":-10.64,"y":0.0212},{"s":"P","x":-10.4,"y":0.0135},{"s":"P","x":-10.83,"y":0.011},{"s":"P","x":-10.8,"y":0.0097},{"s":"P","x":-11.0,"y":0.017},{"s":"P","x":-11.12,"y":0.0159},{"s":"P","x":-11.2,"y":0.0158},{"s":"P","x":-11.43,"y":0.0073},{"s":"P","x":-11.4,"y":0.0062},{"s":"P","x":-11.91,"y":0.0062},{"s":"P","x":-12.04,"y":0.0058},{"s":"P","x":-12.34,"y":0.0053},{"s":"P","x":-12.62,"y":0.005},{"s":"P","x":-12.78,"y":0.0045},{"s":"P","x":-12.46,"y":0.004},{"s":"P","x":-12.31,"y":0.0022},{"s":"P","x":-12.54,"y":0.0033},{"s":"P","x":-12.69,"y":0.0026},{"s":"P","x":-13.37,"y":0.0076},{"s":"P","x":-13.18,"y":0.0072},{"s":"P","x":-13.7,"y":0.0027},{"s":"P","x":-13.73,"y":0.0022},{"s":"P","x":-13.21,"y":0.0015},{"s":"P","x":-14.08,"y":0.0035},{"s":"P","x":-14.17,"y":0.0059},{"s":"P","x":-14.13,"y":0.0016},{"s":"P","x":-11.15,"y":0.0051},{"s":"P","x":-11.12,"y":0.0046},{"s":"P","x":-11.16,"y":0.0039},{"s":"P","x":-11.64,"y":0.0028},{"s":"P","x":-11.51,"y":0.0108},{"s":"P","x":-12.23,"y":0.0114},{"s":"P","x":-12.34,"y":0.0101},{"s":"P","x":-12.83,"y":0.0101},{"s":"P","x":-13.07,"y":0.0071},{"s":"P","x":-14.97,"y":0.0048},{"s":"P","x":-15.47,"y":0.0039},{"s":"P","x":-15.63,"y":0.0033},{"s":"P","x":-16.0,"y":0.0014},{"s":"P","x":-16.0,"y":0.0006},{"s":"P","x":-16.19,"y":0.0014},{"s":"P","x":-16.82,"y":0.0022},{"s":"P","x":-16.74,"y":0.0031},{"s":"P","x":-17.69,"y":0.0016},{"s":"P","x":-17.61,"y":0.0017},{"s":"P","x":-18.2,"y":0.0001},
{"s":"P","x":-6.41,"y":0.0483},{"s":"P","x":-6.32,"y":0.0482},{"s":"P","x":-6.05,"y":0.0477},{"s":"P","x":-6.16,"y":0.0474},{"s":"P","x":-5.86,"y":0.0486},{"s":"P","x":-5.65,"y":0.0495},{"s":"P","x":-5.49,"y":0.0498},{"s":"P","x":-5.17,"y":0.0503},{"s":"P","x":-4.75,"y":0.0509},{"s":"P","x":-4.62,"y":0.0508},{"s":"P","x":-4.42,"y":0.051},{"s":"P","x":-4.23,"y":0.0508},{"s":"P","x":-3.99,"y":0.0507},{"s":"P","x":-3.8,"y":0.0505},{"s":"P","x":-3.51,"y":0.0505},{"s":"P","x":-3.38,"y":0.0505},{"s":"P","x":-3.51,"y":0.0495},{"s":"P","x":-3.83,"y":0.0495},{"s":"P","x":-4.23,"y":0.0499},{"s":"P","x":-4.7,"y":0.05},{"s":"P","x":-4.46,"y":0.0485},{"s":"P","x":-4.3,"y":0.0482},{"s":"P","x":-4.94,"y":0.0477},{"s":"P","x":-4.78,"y":0.0476},{"s":"P","x":-5.65,"y":0.047},{"s":"P","x":-5.46,"y":0.0473},{"s":"P","x":-6.05,"y":0.0464},{"s":"P","x":-5.7,"y":0.0471},{"s":"P","x":-5.1,"y":0.0466},{"s":"P","x":-7.08,"y":0.0465},{"s":"P","x":-6.84,"y":0.0461},{"s":"P","x":-7.31,"y":0.0455},{"s":"P","x":-7.39,"y":0.0449},{"s":"P","x":-7.55,"y":0.0447},{"s":"P","x":-7.71,"y":0.0443},{"s":"P","x":-7.47,"y":0.0441},{"s":"P","x":-7.63,"y":0.0435},{"s":"P","x":-6.87,"y":0.0431},{"s":"P","x":-6.73,"y":0.0431},{"s":"P","x":-7.11,"y":0.0401},{"s":"P","x":-6.97,"y":0.0403},{"s":"P","x":-8.74,"y":0.0401},{"s":"P","x":-8.63,"y":0.0397},{"s":"P","x":-8.82,"y":0.0393},{"s":"P","x":-8.9,"y":0.0387},{"s":"P","x":-8.98,"y":0.038},{"s":"P","x":-9.06,"y":0.0372},{"s":"P","x":-8.42,"y":0.0396},{"s":"P","x":-8.31,"y":0.0389},{"s":"P","x":-8.03,"y":0.0389},{"s":"P","x":-8.19,"y":0.0428},{"s":"P","x":-8.07,"y":0.0426},{"s":"P","x":-8.19,"y":0.0416},{"s":"P","x":-8.19,"y":0.0412},{"s":"P","x":-7.39,"y":0.0391},{"s":"P","x":-7.47,"y":0.0387},{"s":"P","x":-9.45,"y":0.0351},{"s":"P","x":-9.77,"y":0.0341},{"s":"P","x":-9.69,"y":0.0332},{"s":"P","x":-9.85,"y":0.0326},{"s":"P","x":-10.09,"y":0.0318},{"s":"P","x":-10.01,"y":0.0295},{"s":"P","x":-9.85,"y":0.0293},{"s":"P","x":-10.32,"y":0.0285},{"s":"P","x":-9.29,"y":0.0293},{"s":"P","x":-9.21,"y":0.0305},{"s":"P","x":-9.06,"y":0.0316},{"s":"P","x":-8.98,"y":0.0328},{"s":"P","x":-8.9,"y":0.0343},{"s":"P","x":-8.42,"y":0.0343},{"s":"P","x":-8.5,"y":0.031},{"s":"P","x":-8.11,"y":0.0332},
{"s":"P","x":-5.68,"y":0.0381},{"s":"P","x":-5.33,"y":0.038},{"s":"P","x":-5.25,"y":0.0374},{"s":"P","x":-5.17,"y":0.0368},{"s":"P","x":-4.7,"y":0.0364},{"s":"P","x":-5.02,"y":0.0355},{"s":"P","x":-5.17,"y":0.0341},{"s":"P","x":-5.73,"y":0.0339},{"s":"P","x":-5.65,"y":0.0326},{"s":"P","x":-5.17,"y":0.0322},{"s":"P","x":-4.86,"y":0.0314},{"s":"P","x":-5.57,"y":0.0301},{"s":"P","x":-5.46,"y":0.0289},{"s":"P","x":-3.91,"y":0.0364},{"s":"P","x":-3.86,"y":0.0348},{"s":"P","x":-3.75,"y":0.0339},{"s":"P","x":-3.99,"y":0.0335},{"s":"P","x":-3.2,"y":0.033},{"s":"P","x":-3.43,"y":0.0335},{"s":"P","x":-3.67,"y":0.0316},{"s":"P","x":-3.27,"y":0.031},{"s":"P","x":-3.12,"y":0.0343},{"s":"P","x":-2.96,"y":0.0347},{"s":"P","x":-2.72,"y":0.0368},{"s":"P","x":-2.96,"y":0.0372},{"s":"P","x":-3.27,"y":0.037},{"s":"P","x":-3.12,"y":0.0378},{"s":"P","x":-3.43,"y":0.038},{"s":"P","x":-4.23,"y":0.0407},{"s":"P","x":-3.12,"y":0.0405},{"s":"P","x":-3.04,"y":0.0401},{"s":"P","x":-2.48,"y":0.0412},{"s":"P","x":-2.24,"y":0.0416},{"s":"P","x":-1.77,"y":0.0412},{"s":"P","x":-1.69,"y":0.0401},{"s":"P","x":-1.61,"y":0.0391},{"s":"P","x":-1.53,"y":0.0382},{"s":"P","x":-1.22,"y":0.0376},{"s":"P","x":-1.01,"y":0.0373},{"s":"P","x":-1.69,"y":0.0374},{"s":"P","x":-1.45,"y":0.0375},{"s":"P","x":-0.9,"y":0.036},{"s":"P","x":-0.74,"y":0.0355},{"s":"P","x":-0.58,"y":0.0368},{"s":"P","x":-0.19,"y":0.038},{"s":"P","x":-0.9,"y":0.0335},{"s":"P","x":-0.03,"y":0.0339},{"s":"P","x":0.05,"y":0.0335},{"s":"P","x":-0.03,"y":0.0326},{"s":"P","x":-0.58,"y":0.0316},{"s":"P","x":-0.11,"y":0.0306},{"s":"P","x":0.05,"y":0.0301},{"s":"P","x":0.53,"y":0.0299},{"s":"P","x":1.16,"y":0.0322},{"s":"P","x":1.08,"y":0.031},{"s":"P","x":1.32,"y":0.0314},{"s":"P","x":1.32,"y":0.0366},{"s":"P","x":1.48,"y":0.0362},{"s":"P","x":1.79,"y":0.0368},{"s":"P","x":1.95,"y":0.0364},{"s":"P","x":2.27,"y":0.0376},{"s":"P","x":2.35,"y":0.0339},{"s":"P","x":2.51,"y":0.033},{"s":"P","x":2.27,"y":0.032},{"s":"P","x":2.59,"y":0.031},{"s":"P","x":3.06,"y":0.0305},{"s":"P","x":3.22,"y":0.0355},{"s":"P","x":3.7,"y":0.0343},{"s":"P","x":3.54,"y":0.0333},{"s":"P","x":4.33,"y":0.0337},{"s":"P","x":4.41,"y":0.031},{"s":"P","x":4.49,"y":0.0314},{"s":"P","x":4.8,"y":0.0308},{"s":"P","x":5.28,"y":0.0284},{"s":"P","x":4.96,"y":0.0284},{"s":"P","x":4.17,"y":0.0284},{"s":"P","x":3.22,"y":0.0284},{"s":"P","x":2.9,"y":0.0293},
{"s":"P","x":-3.91,"y":0.0453},{"s":"P","x":-3.12,"y":0.0464},{"s":"P","x":-3.04,"y":0.0439},{"s":"P","x":-3.35,"y":0.0443},{"s":"P","x":-2.8,"y":0.0445},{"s":"P","x":-2.72,"y":0.0437},{"s":"P","x":-2.32,"y":0.0439},{"s":"P","x":-2.24,"y":0.0432},{"s":"P","x":-2.09,"y":0.0426},{"s":"P","x":-2.01,"y":0.0418},{"s":"P","x":-2.01,"y":0.0445},{"s":"P","x":-1.69,"y":0.046},{"s":"P","x":-1.53,"y":0.0472},{"s":"P","x":-1.37,"y":0.0474},{"s":"P","x":-1.22,"y":0.0478},{"s":"P","x":-1.06,"y":0.0474},{"s":"P","x":-0.9,"y":0.0472},{"s":"P","x":-0.98,"y":0.0464},{"s":"P","x":-0.9,"y":0.046},{"s":"P","x":-1.37,"y":0.0449},{"s":"P","x":-0.82,"y":0.0424},{"s":"P","x":-0.98,"y":0.0422},{"s":"P","x":-0.42,"y":0.0443},{"s":"P","x":-0.27,"y":0.0441},{"s":"P","x":-0.34,"y":0.0437},{"s":"P","x":0.05,"y":0.043},{"s":"P","x":0.13,"y":0.0439},{"s":"P","x":0.05,"y":0.0447},{"s":"P","x":0.37,"y":0.0458},{"s":"P","x":0.45,"y":0.0453},{"s":"P","x":0.53,"y":0.042},{"s":"P","x":0.61,"y":0.0416},{"s":"P","x":0.84,"y":0.0426},{"s":"P","x":1.0,"y":0.0443},{"s":"P","x":1.32,"y":0.0445},{"s":"P","x":1.4,"y":0.0443},{"s":"P","x":1.48,"y":0.0437},{"s":"P","x":1.64,"y":0.0441},{"s":"P","x":1.95,"y":0.043},{"s":"P","x":2.03,"y":0.042},{"s":"P","x":2.19,"y":0.0412},{"s":"P","x":2.59,"y":0.043},{"s":"P","x":2.82,"y":0.0435},{"s":"P","x":2.98,"y":0.0439},{"s":"P","x":3.22,"y":0.0437},{"s":"P","x":3.38,"y":0.043},{"s":"P","x":3.7,"y":0.0435},{"s":"P","x":4.01,"y":0.0426},{"s":"P","x":4.49,"y":0.043},{"s":"P","x":4.8,"y":0.0438},{"s":"P","x":5.12,"y":0.042},{"s":"P","x":5.59,"y":0.0412},{"s":"P","x":5.75,"y":0.0406},{"s":"P","x":6.07,"y":0.0401},{"s":"P","x":6.23,"y":0.0389},{"s":"P","x":0.84,"y":0.0464},{"s":"P","x":1.16,"y":0.0472},{"s":"P","x":1.24,"y":0.0468},{"s":"P","x":1.0,"y":0.0462},{"s":"P","x":1.71,"y":0.0472},{"s":"P","x":2.19,"y":0.0476},{"s":"P","x":2.35,"y":0.0478},{"s":"P","x":2.51,"y":0.0477},{"s":"P","x":2.67,"y":0.0476},{"s":"P","x":2.82,"y":0.0475},{"s":"P","x":2.98,"y":0.0474},{"s":"P","x":3.22,"y":0.0474},{"s":"P","x":2.43,"y":0.047},{"s":"P","x":2.67,"y":0.0468},{"s":"P","x":4.01,"y":0.046},{"s":"P","x":4.17,"y":0.0453},{"s":"P","x":4.33,"y":0.0451},{"s":"P","x":4.41,"y":0.0443},{"s":"P","x":3.85,"y":0.0418},{"s":"P","x":4.8,"y":0.0401},{"s":"P","x":4.96,"y":0.0397},{"s":"P","x":5.28,"y":0.0389},{"s":"P","x":5.59,"y":0.0376},{"s":"P","x":5.91,"y":0.0372},{"s":"P","x":6.23,"y":0.0368},{"s":"P","x":-3.27,"y":0.0497},{"s":"P","x":-3.04,"y":0.0495},{"s":"P","x":-2.64,"y":0.0494},{"s":"P","x":-2.32,"y":0.0493},{"s":"P","x":-2.24,"y":0.0487},{"s":"P","x":-2.17,"y":0.0483},{"s":"P","x":-1.69,"y":0.0478},{"s":"P","x":-1.53,"y":0.0468},{"s":"P","x":-2.32,"y":0.0472},{"s":"P","x":-2.48,"y":0.048},{"s":"P","x":-2.64,"y":0.0472},{"s":"P","x":-2.88,"y":0.047},{"s":"P","x":-3.27,"y":0.0474},{"s":"P","x":-3.43,"y":0.0472},{"s":"P","x":-3.75,"y":0.047},
{"s":"P","x":-3.99,"y":0.0274},{"s":"P","x":-3.86,"y":0.0273},{"s":"P","x":-5.18,"y":0.027},{"s":"P","x":-5.18,"y":0.0263},{"s":"P","x":-2.88,"y":0.028},{"s":"P","x":-0.19,"y":0.0279},{"s":"P","x":0.0,"y":0.0275},{"s":"P","x":1.76,"y":0.0273},{"s":"P","x":3.14,"y":0.0271},{"s":"P","x":2.46,"y":0.026},{"s":"P","x":-1.19,"y":0.0265},{"s":"P","x":-1.92,"y":0.0262},{"s":"P","x":-3.44,"y":0.026},{"s":"P","x":-4.02,"y":0.0256},{"s":"P","x":-4.64,"y":0.0253},{"s":"P","x":-2.83,"y":0.0244},{"s":"P","x":-3.25,"y":0.0246},{"s":"P","x":-5.78,"y":0.024},{"s":"P","x":-1.85,"y":0.0235},{"s":"P","x":-1.27,"y":0.0229},{"s":"P","x":-4.92,"y":0.0224},{"s":"P","x":0.52,"y":0.0239},{"s":"P","x":0.84,"y":0.0232},{"s":"P","x":1.28,"y":0.022},{"s":"P","x":1.52,"y":0.0221},{"s":"P","x":1.52,"y":0.0226},{"s":"P","x":-0.35,"y":0.0216},{"s":"P","x":0.68,"y":0.0218},{"s":"P","x":0.6,"y":0.0206},{"s":"P","x":0.49,"y":0.0204},{"s":"P","x":-0.11,"y":0.02},{"s":"P","x":-1.27,"y":0.0203},{"s":"P","x":-1.77,"y":0.0192},{"s":"P","x":-1.88,"y":0.0201},{"s":"P","x":-3.12,"y":0.0212},{"s":"P","x":-2.45,"y":0.0212},{"s":"P","x":-3.15,"y":0.0202},{"s":"P","x":-3.36,"y":0.0192},{"s":"P","x":-5.57,"y":0.0213},{"s":"P","x":-5.34,"y":0.0207},{"s":"P","x":-5.02,"y":0.0195},{"s":"P","x":-5.97,"y":0.0196},{"s":"P","x":-1.98,"y":0.018},{"s":"P","x":-1.93,"y":0.0169},{"s":"P","x":0.94,"y":0.0179},{"s":"P","x":1.89,"y":0.0182},{"s":"P","x":2.58,"y":0.02},{"s":"P","x":2.77,"y":0.0193},{"s":"P","x":3.53,"y":0.0188},{"s":"P","x":3.77,"y":0.0188},{"s":"P","x":3.14,"y":0.0242},{"s":"P","x":2.74,"y":0.0232},{"s":"P","x":3.58,"y":0.0224},{"s":"P","x":3.96,"y":0.0149},{"s":"P","x":0.3,"y":0.0159},{"s":"P","x":0.48,"y":0.0158},{"s":"P","x":0.87,"y":0.015},{"s":"P","x":1.16,"y":0.0142},{"s":"P","x":0.32,"y":0.0136},{"s":"P","x":-0.54,"y":0.0138},{"s":"P","x":-0.58,"y":0.013},{"s":"P","x":-3.06,"y":0.0155},{"s":"P","x":-3.67,"y":0.0156},{"s":"P","x":-3.86,"y":0.015},{"s":"P","x":-3.99,"y":0.0148},{"s":"P","x":-4.18,"y":0.014},{"s":"P","x":-4.53,"y":0.0141},{"s":"P","x":-3.59,"y":0.0127},{"s":"P","x":-3.94,"y":0.0128},{"s":"P","x":-5.65,"y":0.0155},{"s":"P","x":-5.46,"y":0.0153},{"s":"P","x":-5.72,"y":0.017},{"s":"P","x":-5.87,"y":0.012},{"s":"P","x":2.98,"y":0.0125},{"s":"P","x":3.38,"y":0.0115},{"s":"P","x":3.5,"y":0.0101},{"s":"P","x":3.53,"y":0.0096},{"s":"P","x":2.19,"y":0.01},{"s":"P","x":1.47,"y":0.0102},{"s":"P","x":1.28,"y":0.0088},{"s":"P","x":2.03,"y":0.0088},{"s":"P","x":-0.51,"y":0.0105},{"s":"P","x":-0.54,"y":0.0086},{"s":"P","x":-2.09,"y":0.0098},{"s":"P","x":-4.28,"y":0.0097},{"s":"P","x":-3.75,"y":0.0092},{"s":"P","x":-4.77,"y":0.008},{"s":"P","x":-2.6,"y":0.008},{"s":"P","x":-4.23,"y":0.0073},{"s":"P","x":-2.49,"y":0.0063},{"s":"P","x":-2.64,"y":0.0053},{"s":"P","x":-2.75,"y":0.0047},{"s":"P","x":-3.39,"y":0.006},{"s":"P","x":-4.39,"y":0.0038},{"s":"P","x":-4.23,"y":0.0033},{"s":"P","x":-3.91,"y":0.0038},{"s":"P","x":-5.15,"y":0.0041},{"s":"P","x":-2.26,"y":0.0025},{"s":"P","x":-1.39,"y":0.005},{"s":"P","x":-1.41,"y":0.0061},{"s":"P","x":-0.54,"y":0.0062},{"s":"P","x":-1.38,"y":0.0032},{"s":"P","x":-1.06,"y":0.0023},{"s":"P","x":-0.71,"y":0.0013},{"s":"P","x":-0.11,"y":0.0021},{"s":"P","x":0.11,"y":0.004},{"s":"P","x":0.26,"y":0.0042},{"s":"P","x":0.62,"y":0.0038},{"s":"P","x":1.16,"y":0.0031},{"s":"P","x":1.6,"y":0.0057},{"s":"P","x":2.62,"y":0.0061},{"s":"P","x":3.38,"y":0.0065},{"s":"P","x":2.69,"y":0.005},{"s":"P","x":3.65,"y":0.0013},{"s":"P","x":2.74,"y":0.001},{"s":"P","x":2.58,"y":0.0006},{"s":"P","x":-0.08,"y":0.0001},{"s":"P","x":0.13,"y":0.0001},{"s":"P","x":-3.07,"y":0.0001},{"s":"P","x":-5.18,"y":0.0006},
{"s":"P","x":6.39,"y":0.0378},{"s":"P","x":6.54,"y":0.037},{"s":"P","x":6.7,"y":0.0364},{"s":"P","x":6.78,"y":0.0353},{"s":"P","x":7.18,"y":0.0339},{"s":"P","x":7.38,"y":0.033},{"s":"P","x":7.34,"y":0.0321},{"s":"P","x":7.49,"y":0.0324},{"s":"P","x":7.65,"y":0.0305},{"s":"P","x":7.89,"y":0.0305},{"s":"P","x":7.81,"y":0.0301},{"s":"P","x":7.18,"y":0.0299},{"s":"P","x":6.62,"y":0.0295},{"s":"P","x":5.99,"y":0.0308},{"s":"P","x":6.07,"y":0.0297},{"s":"P","x":8.52,"y":0.0283},{"s":"P","x":7.34,"y":0.0285},{"s":"P","x":7.1,"y":0.027},{"s":"P","x":7.73,"y":0.0272},{"s":"P","x":7.97,"y":0.0264},{"s":"P","x":6.62,"y":0.0258},{"s":"P","x":6.39,"y":0.0266},{"s":"P","x":6.15,"y":0.0252},{"s":"P","x":6.39,"y":0.0239},{"s":"P","x":6.54,"y":0.0237},{"s":"P","x":6.62,"y":0.0227},{"s":"P","x":5.59,"y":0.0218},{"s":"P","x":7.34,"y":0.0211},{"s":"P","x":8.16,"y":0.0217},{"s":"P","x":8.41,"y":0.023},{"s":"P","x":8.68,"y":0.0241},{"s":"P","x":8.76,"y":0.0244},{"s":"P","x":9.24,"y":0.0247},{"s":"P","x":9.32,"y":0.0243},{"s":"P","x":9.47,"y":0.0238},{"s":"P","x":9.63,"y":0.0239},{"s":"P","x":8.45,"y":0.0268},{"s":"P","x":8.89,"y":0.0268},{"s":"P","x":9.0,"y":0.0262},{"s":"P","x":9.16,"y":0.0257},{"s":"P","x":5.2,"y":0.028},{"s":"P","x":4.96,"y":0.0278},{"s":"P","x":5.15,"y":0.0274},{"s":"P","x":5.39,"y":0.0261},{"s":"P","x":4.45,"y":0.0223},{"s":"P","x":9.95,"y":0.0226},{"s":"P","x":10.27,"y":0.0213},{"s":"P","x":10.43,"y":0.021},
{"s":"P","x":4.17,"y":0.0197},{"s":"P","x":4.2,"y":0.0173},{"s":"P","x":5.72,"y":0.0191},{"s":"P","x":5.78,"y":0.0186},{"s":"P","x":6.94,"y":0.0197},{"s":"P","x":7.02,"y":0.0192},{"s":"P","x":6.99,"y":0.0186},{"s":"P","x":7.65,"y":0.0191},{"s":"P","x":7.86,"y":0.0204},{"s":"P","x":8.21,"y":0.018},{"s":"P","x":8.63,"y":0.0189},{"s":"P","x":8.92,"y":0.019},{"s":"P","x":8.76,"y":0.0174},{"s":"P","x":9.0,"y":0.0171},{"s":"P","x":9.44,"y":0.0194},{"s":"P","x":10.03,"y":0.0174},{"s":"P","x":10.31,"y":0.0167},{"s":"P","x":10.5,"y":0.0201},{"s":"P","x":10.82,"y":0.0194},{"s":"P","x":10.98,"y":0.019},{"s":"P","x":11.06,"y":0.0178},{"s":"P","x":11.06,"y":0.0169},{"s":"P","x":5.72,"y":0.0173},{"s":"P","x":5.88,"y":0.0165},{"s":"P","x":6.26,"y":0.0164},{"s":"P","x":6.89,"y":0.0163},{"s":"P","x":7.7,"y":0.016},{"s":"P","x":7.89,"y":0.0155},{"s":"P","x":5.64,"y":0.0158},{"s":"P","x":6.12,"y":0.0151},{"s":"P","x":4.56,"y":0.0156},{"s":"P","x":4.01,"y":0.0149},{"s":"P","x":7.1,"y":0.0143},{"s":"P","x":8.52,"y":0.0133},{"s":"P","x":8.57,"y":0.0118},{"s":"P","x":9.0,"y":0.0112},{"s":"P","x":8.57,"y":0.0105},{"s":"P","x":8.73,"y":0.0101},{"s":"P","x":8.92,"y":0.0096},{"s":"P","x":9.29,"y":0.0099},{"s":"P","x":9.95,"y":0.0107},{"s":"P","x":10.03,"y":0.0139},{"s":"P","x":10.0,"y":0.0147},{"s":"P","x":10.58,"y":0.0109},{"s":"P","x":10.63,"y":0.0103},{"s":"P","x":10.66,"y":0.013},{"s":"P","x":7.26,"y":0.0091},{"s":"P","x":8.25,"y":0.0081},{"s":"P","x":9.29,"y":0.0076},{"s":"P","x":9.29,"y":0.0068},{"s":"P","x":9.79,"y":0.0064},{"s":"P","x":10.35,"y":0.0053},{"s":"P","x":10.35,"y":0.0035},{"s":"P","x":9.47,"y":0.0048},{"s":"P","x":8.87,"y":0.0045},{"s":"P","x":8.41,"y":0.0041},{"s":"P","x":7.62,"y":0.0043},{"s":"P","x":6.86,"y":0.0039},{"s":"P","x":6.59,"y":0.005},{"s":"P","x":5.31,"y":0.0085},{"s":"P","x":5.51,"y":0.007},{"s":"P","x":6.67,"y":0.0083},{"s":"P","x":4.2,"y":0.0035},{"s":"P","x":5.04,"y":0.0016},{"s":"P","x":4.17,"y":0.001},{"s":"P","x":7.13,"y":0.0016},{"s":"P","x":7.86,"y":0.0018},{"s":"P","x":8.37,"y":0.001},{"s":"P","x":9.29,"y":0.0019},{"s":"P","x":9.36,"y":0.0009},{"s":"P","x":7.1,"y":0.0001},{"s":"P","x":10.74,"y":0.0019},
{"s":"P","x":11.14,"y":0.0193},{"s":"P","x":11.3,"y":0.0187},{"s":"P","x":11.27,"y":0.0176},{"s":"P","x":11.38,"y":0.0173},{"s":"P","x":11.58,"y":0.017},{"s":"P","x":11.69,"y":0.0162},{"s":"P","x":12.09,"y":0.0157},{"s":"P","x":12.44,"y":0.0163},{"s":"P","x":12.57,"y":0.0155},{"s":"P","x":12.72,"y":0.0149},{"s":"P","x":12.25,"y":0.0133},{"s":"P","x":12.41,"y":0.0124},{"s":"P","x":13.12,"y":0.0128},{"s":"P","x":13.31,"y":0.0135},{"s":"P","x":13.48,"y":0.0131},{"s":"P","x":13.75,"y":0.013},{"s":"P","x":13.83,"y":0.0126},{"s":"P","x":13.67,"y":0.0115},{"s":"P","x":13.86,"y":0.012},{"s":"P","x":14.07,"y":0.011},{"s":"P","x":14.5,"y":0.011},{"s":"P","x":14.89,"y":0.0099},{"s":"P","x":15.29,"y":0.0092},{"s":"P","x":15.23,"y":0.0087},{"s":"P","x":15.42,"y":0.0085},{"s":"P","x":15.77,"y":0.0082},{"s":"P","x":15.92,"y":0.008},{"s":"P","x":15.77,"y":0.0076},{"s":"P","x":16.05,"y":0.0074},{"s":"P","x":16.21,"y":0.0075},{"s":"P","x":16.13,"y":0.0066},{"s":"P","x":16.37,"y":0.0064},{"s":"P","x":16.6,"y":0.0067},{"s":"P","x":16.72,"y":0.0068},{"s":"P","x":17.0,"y":0.006},{"s":"P","x":17.24,"y":0.0055},{"s":"P","x":17.35,"y":0.0055},{"s":"P","x":17.13,"y":0.0049},{"s":"P","x":17.48,"y":0.0043},{"s":"P","x":17.63,"y":0.0044},{"s":"P","x":17.9,"y":0.0046},{"s":"P","x":18.11,"y":0.004},{"s":"P","x":17.79,"y":0.0032},{"s":"P","x":18.66,"y":0.0031},{"s":"P","x":18.82,"y":0.003},{"s":"P","x":18.93,"y":0.0026},{"s":"P","x":18.43,"y":0.0023},{"s":"P","x":18.5,"y":0.002},{"s":"P","x":19.06,"y":0.0026},{"s":"P","x":19.38,"y":0.002},{"s":"P","x":19.46,"y":0.0022},{"s":"P","x":18.95,"y":0.0017},{"s":"P","x":19.69,"y":0.0009},{"s":"P","x":20.01,"y":0.0014},{"s":"P","x":20.49,"y":0.0011},{"s":"P","x":20.64,"y":0.001},{"s":"P","x":21.09,"y":0.0009},{"s":"P","x":21.52,"y":0.0006},{"s":"P","x":19.77,"y":0.0006},{"s":"P","x":22.86,"y":0},{"s":"P","x":19.14,"y":0.0001},{"s":"P","x":17.16,"y":0.0022},{"s":"P","x":17.4,"y":0.0024},{"s":"P","x":17.08,"y":0.0013},{"s":"P","x":16.76,"y":0.002},{"s":"P","x":15.97,"y":0.0026},{"s":"P","x":15.81,"y":0.0027},{"s":"P","x":15.73,"y":0.0032},{"s":"P","x":15.42,"y":0.0051},{"s":"P","x":15.34,"y":0.0064},{"s":"P","x":15.29,"y":0.0069},{"s":"P","x":15.1,"y":0.007},{"s":"P","x":14.86,"y":0.0064},{"s":"P","x":14.66,"y":0.0066},{"s":"P","x":15.07,"y":0.0032},{"s":"P","x":14.7,"y":0.0011},{"s":"P","x":14.07,"y":0.0034},{"s":"P","x":12.8,"y":0.003},{"s":"P","x":12.8,"y":0.0001},{"s":"P","x":12.49,"y":0.004},{"s":"P","x":12.17,"y":0.0026},{"s":"P","x":11.85,"y":0.003},{"s":"P","x":13.12,"y":0.0098},{"s":"P","x":13.83,"y":0.0076},{"s":"P","x":13.91,"y":0.0074},{"s":"P","x":12.91,"y":0.0081},{"s":"P","x":12.09,"y":0.0095},{"s":"P","x":12.09,"y":0.0091},{"s":"P","x":11.81,"y":0.0087},{"s":"P","x":12.09,"y":0.0105},{"s":"P","x":11.27,"y":0.0093}
]},
"layer":[
{"data":{"name":"curve"},
 "mark":{"type":"line","color":"#000000","strokeWidth":1.6,"clip":true},
 "encoding":{
  "x":{"field":"x","type":"quantitative","scale":{"domain":[-25,25],"nice":false,"zero":false},
   "axis":{"orient":"bottom","values":[-25,-20,-15,-10,-5,0,5,10,15,20,25],"tickSize":-10.5,"labelPadding":21,"labelFontSize":18,"labelFont":"Liberation Sans","labelColor":"#262626","labelFlush":false,"labelOverlap":false,"domainColor":"#262626","tickColor":"#262626","domainWidth":1,"tickWidth":1,"grid":false,"title":"x₂","titleFont":"Liberation Sans","titleFontSize":19.8,"titleFontWeight":"normal","titleColor":"#262626","titlePadding":6}},
  "y":{"field":"y","type":"quantitative","scale":{"domain":[0,0.06],"nice":false,"zero":true},
   "axis":{"orient":"left","values":[0,0.01,0.02,0.03,0.04,0.05,0.06],"labels":false,"tickSize":-10.5,"domainColor":"#262626","tickColor":"#262626","domainWidth":1,"tickWidth":1,"grid":false,"title":"Density","titleFont":"Liberation Sans","titleFontSize":19.8,"titleFontWeight":"normal","titleColor":"#262626","titlePadding":13}}}},
{"data":{"name":"pts"},
 "mark":{"type":"point","filled":false,"size":300,"strokeWidth":1,"opacity":1,"clip":true},
 "encoding":{
  "x":{"field":"x","type":"quantitative","scale":{"domain":[-25,25],"nice":false,"zero":false},
   "axis":{"orient":"top","values":[-25,-20,-15,-10,-5,0,5,10,15,20,25],"labels":false,"tickSize":-10.5,"domainColor":"#262626","tickColor":"#262626","domainWidth":1,"tickWidth":1,"grid":false,"title":null}},
  "y":{"field":"y","type":"quantitative","scale":{"domain":[0,0.06],"nice":false,"zero":true},
   "axis":{"orient":"right","values":[0,0.01,0.02,0.03,0.04,0.05,0.06],"labels":false,"tickSize":-10.5,"domainColor":"#262626","tickColor":"#262626","domainWidth":1,"tickWidth":1,"grid":false,"title":null}},
  "color":{"field":"s","type":"nominal","scale":{"domain":["L","T","P"],"range":["#000000","#0072BD","#D95319"]},
   "legend":{"orient":"top-left","offset":7,"title":null,"labelFontSize":21,"labelFont":"Liberation Sans","labelColor":"#000000","labelLimit":500,"symbolSize":300,"symbolStrokeWidth":1,"padding":3,"rowPadding":4,"labelOffset":-1,"strokeColor":"#262626","fillColor":"#ffffff",
    "labelExpr":"(datum.value === 'L' ? 'True posterior pdf' : datum.value === 'T' ? 'Target pdf evaluations' : 'Proposal pdf evaluations') + '\u00a0\u00a0\u00a0\u00a0\u200b'",
    "encode":{"symbols":{"update":{"strokeWidth":{"signal":"datum.value === 'L' ? 1.6 : 1"}}}}}},
  "shape":{"field":"s","type":"nominal","scale":{"domain":["L","T","P"],"range":["M-1,0L1,0","M0,-0.34L0.34,0.26L-0.34,0.26Z","M0.26,0A0.26,0.26,0,1,1,-0.26,0A0.26,0.26,0,1,1,0.26,0Z"]}}}}
],
"resolve":{"axis":{"x":"independent","y":"independent"}}
}
